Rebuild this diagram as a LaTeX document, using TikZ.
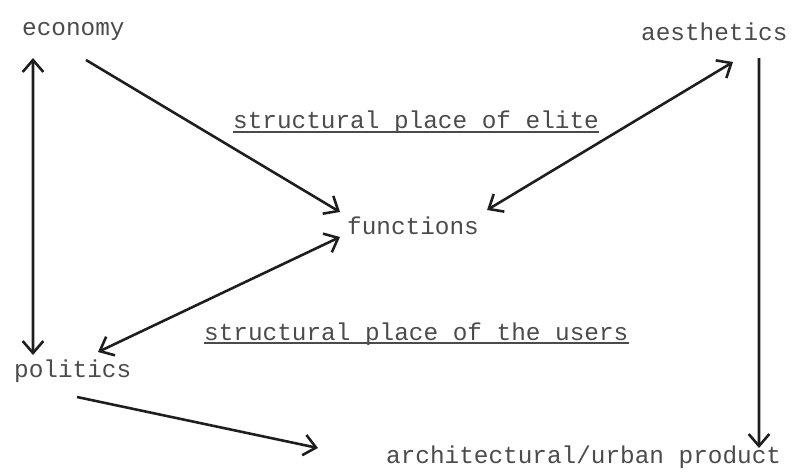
\documentclass[tikz,border=0pt]{standalone}
\usepackage{fontspec}
\setmonofont{Liberation Mono}
\usetikzlibrary{arrows.meta}
\definecolor{ctrText}{RGB}{75, 75, 75}
\definecolor{ctrLine}{RGB}{30, 30, 30}

\begin{document}
\begin{tikzpicture}[
  x=0.03cm, y=-0.03cm,
  term/.style={
    anchor=base west,
    inner sep=0pt,
    text=ctrText,
    font=\ttfamily\fontsize{20.8}{25}\selectfont
  },
  link/.style={
    line width=2.2pt, ctrLine,
    -{Straight Barb[length=3.6mm,width=6.2mm]}
  },
  biglink/.style={
    line width=2.2pt, ctrLine,
    {Straight Barb[length=3.6mm,width=6.2mm]}-{Straight Barb[length=3.6mm,width=6.2mm]}
  },
  uline/.style={line width=1.1pt, ctrText}
]
  \useasboundingbox (0,0) rectangle (800,475);

  \node[term] (economy) at (22,35) {economy};
  \node[term] (aesthetics) at (641,40) {aesthetics};
  \node[term] (functions) at (347,234) {functions};
  \node[term] (politics) at (14,377) {politics};
  \node[term] (product) at (386,463) {architectural/urban product};
  \node[term] (elite) at (233,128) {structural place of elite};
  \node[term] (users) at (204,340) {structural place of the users};

  \draw[uline] ([yshift=-0.12cm]elite.base west) -- ([yshift=-0.12cm]elite.base east);
  \draw[uline] ([yshift=-0.09cm]users.base west) -- ([yshift=-0.09cm]users.base east);

  \draw[biglink] ([xshift=0.33cm,yshift=-0.69cm]economy.base west)
    -- ([xshift=0.57cm,yshift=0.66cm]politics.base west);
  \draw[link] ([xshift=1.92cm,yshift=-0.75cm]economy.base west)
    -- ([xshift=-0.21cm,yshift=0.66cm]functions.base west);
  \draw[biglink] ([xshift=2.76cm,yshift=-0.66cm]aesthetics.base west)
    -- ([xshift=0.24cm,yshift=0.72cm]functions.base east);
  \draw[biglink] ([xshift=-0.21cm,yshift=-0.09cm]functions.base west)
    -- ([xshift=2.52cm,yshift=0.75cm]politics.base west);
  \draw[link] ([xshift=3.54cm,yshift=-0.54cm]aesthetics.base west)
    -- ([xshift=11.19cm,yshift=0.45cm]product.base west);
  \draw[link] ([xshift=1.89cm,yshift=-0.6cm]politics.base west)
    -- ([xshift=-2.04cm,yshift=0.45cm]product.base west);
\end{tikzpicture}
\end{document}
